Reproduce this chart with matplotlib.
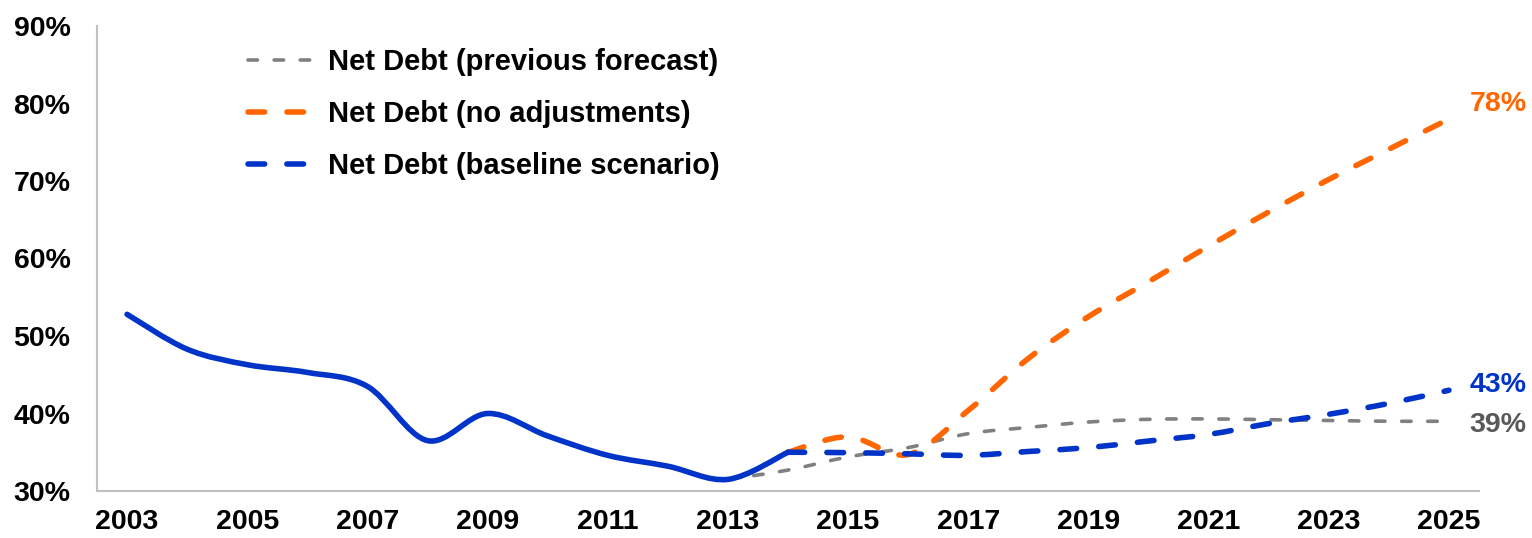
import numpy as np
import matplotlib
matplotlib.use("Agg")
import matplotlib.pyplot as plt
from matplotlib.path import Path
from matplotlib.patches import PathPatch
from matplotlib.lines import Line2D

# ---- data -------------------------------------------------------------
hist_years = list(range(2003, 2015))
hist_debt = [52.8, 48.3, 46.3, 45.3, 43.5, 36.5, 40.0, 37.1, 34.6, 33.2, 31.5, 35.0]

fc_years = list(range(2014, 2026))
baseline = [35.0, 34.95, 34.8, 34.6, 35.1, 35.6, 36.45, 37.3, 38.7, 39.9, 41.3, 43.0]
no_adjust = [35.0, 37.0, 34.7, 40.4, 47.1, 52.5, 57.0, 61.6, 66.0, 70.2, 74.1, 78.0]

prev_years = list(range(2013, 2026))
previous = [31.5, 32.7, 34.4, 35.6, 37.4, 38.2, 38.9, 39.25, 39.3, 39.2, 39.1, 39.0, 39.0]

x_ticks = list(range(2003, 2026, 2))
y_ticks = [30, 40, 50, 60, 70, 80, 90]

labels = ["Net Debt (previous forecast)",
          "Net Debt (no adjustments)",
          "Net Debt (baseline scenario)"]

# ---- style ------------------------------------------------------------
BLUE = "#0033C8"
ORANGE = "#FF6600"
GRAY = "#808080"
GRAY_TXT = "#595959"

plt.rcParams["font.family"] = ["Liberation Sans", "DejaVu Sans"]
plt.rcParams["font.weight"] = "bold"
plt.rcParams["lines.scale_dashes"] = False


def smooth_path(xs, ys):
    """Bezier path through the points with Catmull-Rom style tangents."""
    pts = np.column_stack([xs, ys]).astype(float)
    n = len(pts)
    verts = [pts[0]]
    codes = [Path.MOVETO]
    for i in range(n - 1):
        p0 = pts[i - 1] if i > 0 else pts[i]
        p1 = pts[i]
        p2 = pts[i + 1]
        p3 = pts[i + 2] if i + 2 < n else pts[i + 1]
        verts += [p1 + (p2 - p0) / 6.0, p2 - (p3 - p1) / 6.0, p2]
        codes += [Path.CURVE4] * 3
    return Path(verts, codes)


def add_curve(ax, xs, ys, color, lw, ls, z):
    patch = PathPatch(smooth_path(xs, ys), facecolor="none", edgecolor=color,
                      linewidth=lw, linestyle=ls, capstyle="round",
                      joinstyle="round", zorder=z)
    ax.add_patch(patch)


fig = plt.figure(figsize=(15.32, 5.38), dpi=100)
ax = fig.add_axes([97 / 1532, 1 - 491 / 538, (1479 - 97) / 1532, (491 - 26) / 538])

LW = 4.0
gray_ls = (0, (6.8, 12.0))
big_ls = (0, (12.0, 16.0))

add_curve(ax, prev_years, previous, GRAY, 2.6, gray_ls, 2)
add_curve(ax, fc_years, no_adjust, ORANGE, LW, big_ls, 3)
add_curve(ax, fc_years, baseline, BLUE, LW, big_ls, 4)
add_curve(ax, hist_years, hist_debt, BLUE, LW, "solid", 5)

ax.set_xlim(2002.5, 2025.5)
ax.set_ylim(30, 90)
ax.set_xticks(x_ticks)
ax.set_xticklabels([str(y) for y in x_ticks])
ax.set_yticks(y_ticks)
ax.set_yticklabels([f"{v}%" for v in y_ticks])
ax.tick_params(axis="both", length=0, labelsize=20.5, colors="black")
ax.tick_params(axis="x", pad=13)
ax.tick_params(axis="y", pad=19)

for side in ("top", "right"):
    ax.spines[side].set_visible(False)
for side in ("left", "bottom"):
    ax.spines[side].set_color("#C0C0C0")
    ax.spines[side].set_linewidth(1.5)

# end-of-line value labels
ax.annotate(f"{no_adjust[-1]:.0f}%", xy=(fc_years[-1], no_adjust[-1]),
            xytext=(15, 11), textcoords="offset points", ha="left", va="center",
            color=ORANGE, fontsize=20.5, fontweight="bold")
ax.annotate(f"{baseline[-1]:.0f}%", xy=(fc_years[-1], baseline[-1]),
            xytext=(15, 3.5), textcoords="offset points", ha="left", va="center",
            color=BLUE, fontsize=20.5, fontweight="bold")
ax.annotate(f"{previous[-1]:.0f}%", xy=(prev_years[-1], previous[-1]),
            xytext=(15, -2.5), textcoords="offset points", ha="left", va="center",
            color=GRAY_TXT, fontsize=20.5, fontweight="bold")

handles = [
    Line2D([], [], color=GRAY, lw=2.6, linestyle=gray_ls, dash_capstyle="round"),
    Line2D([], [], color=ORANGE, lw=LW, linestyle=big_ls, dash_capstyle="round"),
    Line2D([], [], color=BLUE, lw=LW, linestyle=big_ls, dash_capstyle="round"),
]
ax.legend(handles, labels, loc="upper left", bbox_to_anchor=(0.109, 0.952),
          frameon=False, fontsize=21, handlelength=2.45, handletextpad=0.3,
          labelspacing=0.82, borderpad=0, borderaxespad=0)

fig.savefig("out.png", dpi=100)
